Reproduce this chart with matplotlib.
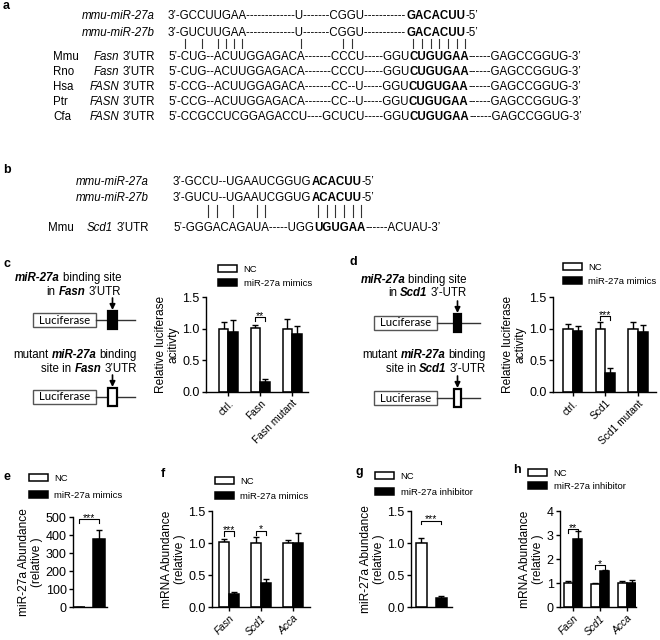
import numpy as np
import matplotlib
matplotlib.use('Agg')
import matplotlib.pyplot as plt
from matplotlib.patches import Rectangle
from matplotlib.font_manager import FontProperties

plt.rcParams['font.family'] = ['Liberation Sans', 'DejaVu Sans']

# ---- panel a / b : sequences (text, bold?) ----
mir27a_fasn = [("3’-GCCUUGAA-------------U-------CGGU-----------", 0), ("GACACUU", 1), ("-5’", 0)]
mir27b_fasn = [("3’-GUCUUGAA-------------U-------CGGU-----------", 0), ("GACACUU", 1), ("-5’", 0)]
fasn_rows = [
    ("Mmu", "Fasn", [("5’-CUG--ACUUGGAGACA-------CCCU-----GGU", 0), ("CUGUGAA", 1), ("------GAGCCGGUG-3’", 0)]),
    ("Rno", "Fasn", [("5’-CUG--ACUUGGAGACA-------CCCU-----GGU", 0), ("CUGUGAA", 1), ("------GAGCCGGUG-3’", 0)]),
    ("Hsa", "FASN", [("5’-CCG--ACUUGGAGACA-------CC--U-----GGU", 0), ("CUGUGAA", 1), ("------GAGCCGGUG-3’", 0)]),
    ("Ptr", "FASN", [("5’-CCG--ACUUGGAGACA-------CC--U-----GGU", 0), ("CUGUGAA", 1), ("------GAGCCGGUG-3’", 0)]),
    ("Cfa", "FASN", [("5’-CCGCCUCGGAGACCU----GCUCU-----GGU", 0), ("CUGUGAA", 1), ("------GAGCCGGUG-3’", 0)]),
]
fasn_pairs = [3, 5, 8, 9, 10, 11, 18, 27, 28, 38, 39, 40, 41, 42, 43, 44]

mir27a_scd1 = [("3’-GCCU--UGAAUCGGUG", 0), ("ACACUU", 1), ("-5’", 0)]
mir27b_scd1 = [("3’-GUCU--UGAAUCGGUG", 0), ("ACACUU", 1), ("-5’", 0)]
scd1_seq = [("5’-GGGACAGAUA-----UGG", 0), ("UGUGAA", 1), ("------ACUAU-3’", 0)]
scd1_pairs = [5, 6, 8, 11, 12, 21, 22, 23, 24, 25, 26]

# ---- panel c / d : luciferase ----
c_groups = ["ctrl.", "Fasn", "Fasn mutant"]
c_nc = [1.0, 1.01, 1.0]
c_nc_err = [0.1, 0.05, 0.15]
c_mim = [0.94, 0.16, 0.91]
c_mim_err = [0.19, 0.04, 0.14]

d_groups = ["ctrl.", "Scd1", "Scd1 mutant"]
d_nc = [1.0, 1.0, 0.99]
d_nc_err = [0.07, 0.1, 0.12]
d_mim = [0.97, 0.3, 0.94]
d_mim_err = [0.07, 0.08, 0.12]

# ---- panel e-h ----
e_nc, e_nc_err = [1.0], [0.2]
e_mim, e_mim_err = [380], [50]

f_groups = ["Fasn", "Scd1", "Acca"]
f_nc = [1.01, 1.0, 1.0]
f_nc_err = [0.05, 0.1, 0.05]
f_mim = [0.2, 0.38, 1.0]
f_mim_err = [0.03, 0.05, 0.15]

g_nc, g_nc_err = [1.0], [0.08]
g_inh, g_inh_err = [0.14], [0.03]

h_groups = ["Fasn", "Scd1", "Acca"]
h_nc = [1.0, 0.97, 1.0]
h_nc_err = [0.08, 0.02, 0.1]
h_inh = [2.85, 1.5, 1.0]
h_inh_err = [0.3, 0.03, 0.12]

W, H = 660, 640
fig = plt.figure(figsize=(6.6, 6.4), dpi=100)
ov = fig.add_axes([0, 0, 1, 1])
ov.set_xlim(0, W)
ov.set_ylim(H, 0)
ov.axis('off')
rend = fig.canvas.get_renderer()
FS = 8.3


def adv(s, size, weight, style, family='Liberation Sans'):
    if s == '':
        return 0.0
    fp = FontProperties(family=family, size=size, weight=weight, style=style)
    core = s.strip(' ')
    sp = 0.278 * size * 100 / 72
    nl = len(s) - len(s.lstrip(' '))
    nt = len(s) - len(s.rstrip(' '))
    w1 = rend.get_text_width_height_descent(core + '|', fp, ismath=False)[0]
    w0 = rend.get_text_width_height_descent('|', fp, ismath=False)[0]
    return nl * sp + (w1 - w0) + nt * sp


def runs(x, y, parts, size=FS, align='left'):
    # parts: (text, weight, style)
    widths = [adv(t, size, w, s) for t, w, s in parts]
    if align == 'right':
        x = x - sum(widths)
    starts = []
    sp = 0.278 * size * 100 / 72
    for (t, w, s), wd in zip(parts, widths):
        nl = len(t) - len(t.lstrip(' '))
        ov.text(x + nl * sp, y, t.strip(' '), fontsize=size, fontweight=w, fontstyle=s,
                va='center', ha='left')
        starts.append(x)
        x += wd
    return starts


def seq(x, y, segs):
    parts = [(t, 'bold' if b else 'normal', 'normal') for t, b in segs]
    return runs(x, y, parts)


def char_x(starts, segs, idx):
    for st, (t, b) in zip(starts, segs):
        if idx < len(t):
            w = 'bold' if b else 'normal'
            return st + (adv(t[:idx], FS, w, 'normal') + adv(t[:idx + 1], FS, w, 'normal')) / 2
        idx -= len(t)


def pairs(starts, segs, idxs, y0, y1):
    for i in idxs:
        xx = char_x(starts, segs, i)
        ov.plot([xx, xx], [y0, y1], color='#333333', lw=0.8)


def letter(x, y, s):
    ov.text(x, y, s, fontsize=9, fontweight='bold', va='center', ha='left')


# ---------------- panel a ----------------
letter(3, 6, 'a')
sx = 168
runs(155, 16, [("mmu-miR-27a", 'normal', 'italic')], align='right')
seq(sx, 16, mir27a_fasn)
runs(155, 33, [("mmu-miR-27b", 'normal', 'italic')], align='right')
seq(sx, 33, mir27b_fasn)
row_y = [57, 72, 87, 102, 117]
for (sp_, gene, segs), yy in zip(fasn_rows, row_y):
    ov.text(53, yy, sp_, fontsize=FS, va='center', ha='left')
    runs(155, yy, [(gene, 'normal', 'italic'), (" 3’UTR", 'normal', 'normal')], align='right')
    st = seq(sx, yy, segs)
    if sp_ == "Mmu":
        pairs(st, segs, fasn_pairs, 39, 48)

# ---------------- panel b ----------------
letter(3, 170, 'b')
sx = 173
runs(149, 182, [("mmu-miR-27a", 'normal', 'italic')], align='right')
seq(sx, 182, mir27a_scd1)
runs(149, 198, [("mmu-miR-27b", 'normal', 'italic')], align='right')
seq(sx, 198, mir27b_scd1)
ov.text(48, 228, "Mmu", fontsize=FS, va='center', ha='left')
runs(149, 228, [("Scd1", 'normal', 'italic'), (" 3’UTR", 'normal', 'normal')], align='right')
st = seq(sx, 228, scd1_seq)
pairs(st, scd1_seq, scd1_pairs, 205, 217)


# ---------------- schematics c / d ----------------
def construct(bx, by, line_end, site_x, site_w, filled):
    ov.add_patch(Rectangle((bx, by), 63, 14, fill=False, ec='#555555', lw=1))
    ov.text(bx + 31.5, by + 7, "Luciferase", fontsize=8.2, family='Lato', va='center', ha='center')
    ov.plot([bx + 63, line_end], [by + 7, by + 7], color='#333333', lw=1)
    ov.add_patch(Rectangle((site_x, by - 2), site_w, 18, fc='black' if filled else 'white',
                           ec='black', lw=1.6, zorder=3))
    ov.annotate('', xy=(site_x + site_w / 2, by - 3), xytext=(site_x + site_w / 2, by - 15),
                arrowprops=dict(arrowstyle='-|>', color='black', lw=1.2, mutation_scale=8,
                                shrinkA=0, shrinkB=0))


BI = ('bold', 'italic')
letter(3, 264, 'c')
runs(121, 278, [("miR-27a", *BI), (" binding site", 'normal', 'normal')], align='right')
runs(121, 292, [("in ", 'normal', 'normal'), ("Fasn", *BI), (" 3’UTR", 'normal', 'normal')], align='right')
construct(33, 313, 135, 108, 9, True)
runs(137, 355, [("mutant ", 'normal', 'normal'), ("miR-27a", *BI), (" binding", 'normal', 'normal')], align='right')
runs(137, 369, [("site in ", 'normal', 'normal'), ("Fasn", *BI), (" 3’UTR", 'normal', 'normal')], align='right')
construct(33, 390, 135, 108, 9, False)

letter(349, 262, 'd')
runs(467, 280, [("miR-27a", *BI), (" binding site", 'normal', 'normal')], align='right')
runs(467, 293, [("in ", 'normal', 'normal'), ("Scd1", *BI), (" 3’-UTR", 'normal', 'normal')], align='right')
construct(374, 316, 480, 454, 7, True)
runs(486, 355, [("mutant ", 'normal', 'normal'), ("miR-27a", *BI), (" binding", 'normal', 'normal')], align='right')
runs(486, 369, [("site in ", 'normal', 'normal'), ("Scd1", *BI), (" 3’-UTR", 'normal', 'normal')], align='right')
construct(374, 391, 480, 454, 7, False)


# ---------------- bar charts ----------------
def px_axes(l, t, r, b):
    return fig.add_axes([l / W, 1 - b / H, (r - l) / W, (b - t) / H])


def barchart(rect, xlim, ylim, yticks, fmt, a, a_err, b, b_err, width,
             leg_labels, leg_xy, ylabel, xlabels=None, italic=False, spacing=0.55):
    ax = px_axes(*rect)
    x = np.arange(len(a))
    if len(a) == 1:
        xa, xb = np.array([0.0]), np.array([1.0])
    else:
        xa, xb = x - width / 2, x + width / 2
    b1 = ax.bar(xa, a, width, color='white', edgecolor='black', lw=1.1, zorder=2)
    b2 = ax.bar(xb, b, width, color='black', edgecolor='black', lw=1.1, zorder=2)
    for xx, v, e in ((xa, a, a_err), (xb, b, b_err)):
        ax.errorbar(xx, v, yerr=[np.zeros(len(v)), e], fmt='none', ecolor='black',
                    elinewidth=1, capsize=2.3, capthick=1, zorder=1)
    ax.set_xlim(*xlim)
    ax.set_ylim(*ylim)
    ax.set_yticks(yticks)
    ax.set_yticklabels([fmt.format(v) for v in yticks], fontsize=9)
    for s in ('top', 'right'):
        ax.spines[s].set_visible(False)
    for s in ('left', 'bottom'):
        ax.spines[s].set_linewidth(1)
    ax.tick_params(length=3, width=1, pad=1.5)
    if xlabels is None:
        ax.set_xticks([])
    else:
        ax.set_xticks(x)
        ax.set_xticklabels(xlabels, rotation=45, ha='right', rotation_mode='anchor',
                           fontsize=7.4, fontstyle='italic' if italic else 'normal')
    ax.set_ylabel(ylabel, fontsize=8.6, labelpad=2, linespacing=1.1)
    ax.legend([b1, b2], leg_labels, loc='upper left',
              bbox_to_anchor=(leg_xy[0] / W, 1 - leg_xy[1] / H), bbox_transform=fig.transFigure,
              frameon=False, fontsize=6.8, handlelength=2.0, handleheight=0.75,
              handletextpad=0.7, labelspacing=spacing, borderpad=0, borderaxespad=0)
    return ax, xa, xb


def sig(ax, x0, x1, y, d, txt):
    ax.plot([x0, x0, x1, x1], [y - d, y, y, y - d], color='black', lw=0.8, clip_on=False)
    ax.annotate(txt, xy=((x0 + x1) / 2, y), xytext=(0, -1.2), textcoords='offset points',
                ha='center', va='baseline', fontsize=7.5, annotation_clip=False)


ticks15 = [0.0, 0.5, 1.0, 1.5]
mim_lab = ["NC", "miR-27a mimics"]
inh_lab = ["NC", "miR-27a inhibitor"]

ax, xa, xb = barchart((206, 297, 308, 392), (-0.7, 2.5), (0, 1.5), ticks15, "{:.1f}",
                      c_nc, c_nc_err, c_mim, c_mim_err, 0.3, mim_lab, (218, 265),
                      "Relative luciferase\nacitivty", xlabels=c_groups)
sig(ax, xa[1], xb[1], 1.18, 0.06, "**")

ax, xa, xb = barchart((553, 297, 656, 392), (-0.6, 2.55), (0, 1.5), ticks15, "{:.1f}",
                      d_nc, d_nc_err, d_mim, d_mim_err, 0.3, mim_lab, (563, 263),
                      "Relative luciferase\nactivity", xlabels=d_groups)
sig(ax, xa[1], xb[1], 1.2, 0.07, "***")

letter(4, 477, 'e')
ax, xa, xb = barchart((73, 517, 107, 607), (-0.3, 1.4), (0, 500), [0, 100, 200, 300, 400, 500], "{:d}",
                      e_nc, e_nc_err, e_mim, e_mim_err, 0.6, mim_lab, (29, 474),
                      "miR-27a Abundance\n(relative )", spacing=0.85)
sig(ax, xa[0], xb[0], 488, 20, "***")

letter(161, 474, 'f')
ax, xa, xb = barchart((212, 511, 310, 607), (-0.53, 2.53), (0, 1.5), ticks15, "{:.1f}",
                      f_nc, f_nc_err, f_mim, f_mim_err, 0.3, mim_lab, (215, 477),
                      "mRNA Abundance\n(relative )", xlabels=f_groups, italic=True, spacing=0.6)
sig(ax, xa[0], xb[0], 1.18, 0.07, "***")
sig(ax, xa[1], xb[1], 1.19, 0.06, "*")

letter(355, 472, 'g')
ax, xa, xb = barchart((411, 511, 452, 607), (-0.5, 1.55), (0, 1.5), ticks15, "{:.1f}",
                      g_nc, g_nc_err, g_inh, g_inh_err, 0.55, inh_lab, (375, 472),
                      "miR-27a Abundance\n(relative )", spacing=0.7)
sig(ax, xa[0], xb[0], 1.35, 0.05, "***")

letter(513, 470, 'h')
ax, xa, xb = barchart((560, 511, 636, 607), (-0.48, 2.33), (0, 4), [0, 1, 2, 3, 4], "{:d}",
                      h_nc, h_nc_err, h_inh, h_inh_err, 0.35, inh_lab, (528, 469),
                      "mRNA Abundance\n(relative )", xlabels=h_groups, italic=True, spacing=0.45)
sig(ax, xa[0], xb[0], 3.25, 0.18, "**")
sig(ax, xa[1], xb[1], 1.75, 0.15, "*")

fig.savefig('out.png', dpi=100)
